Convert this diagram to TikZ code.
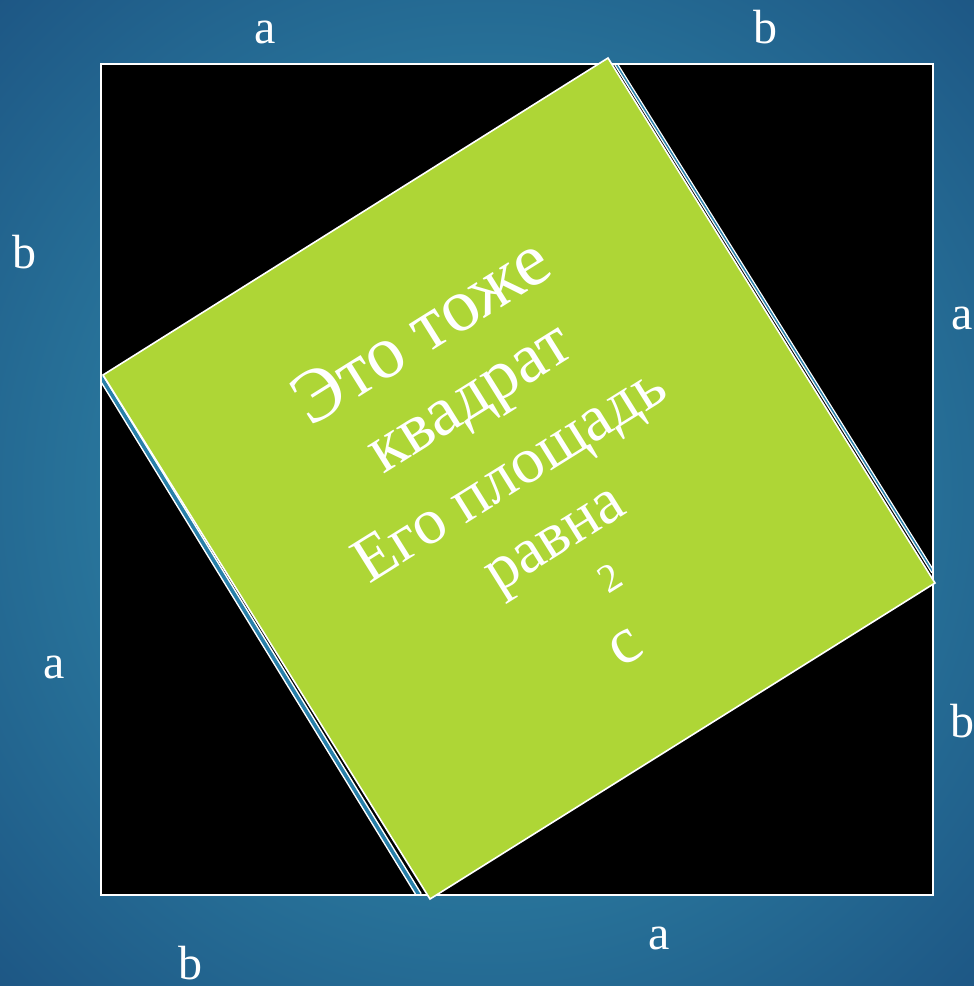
\documentclass[tikz,border=0pt]{standalone}
\usepackage{fontspec}
\setmainfont{Liberation Serif}
\definecolor{bgout}{RGB}{29,86,132}
\definecolor{bgin}{RGB}{47,134,168}
\definecolor{lime}{RGB}{174,214,54}
\definecolor{hypblue}{RGB}{40,128,170}
\pgfdeclareradialshading{bgshade}{\pgfpoint{0bp}{0bp}}{color(0bp)=(bgin); color(14bp)=(bgin!85!bgout); color(36bp)=(bgout); color(50bp)=(bgout)}
\tikzset{
  lbl/.style={text=white, anchor=base, inner sep=0pt, font=\fontsize{48}{56}\selectfont},
  sqborder/.style={draw=white, line width=1.6pt},
  rtext/.style={rotate=32, text=white, inner sep=0pt},
}
\begin{document}
\begin{tikzpicture}[x=1pt,y=-1pt]
\useasboundingbox (0,0) rectangle (974,986);
\shade[shading=bgshade] (0,0) rectangle (974,986);
% outer square
\coordinate (O1) at (101,64);
\coordinate (O2) at (933,64);
\coordinate (O3) at (933,895);
\coordinate (O4) at (101,895);
\fill[black] (O1) -- (O2) -- (O3) -- (O4) -- cycle;
% triangle hypotenuses
\coordinate (H1) at (101,377);
\coordinate (H2) at (419,895);
\coordinate (H3) at (616,64);
\coordinate (H4) at (933,572);
\begin{scope}
\clip (O1) -- (O2) -- (O3) -- (O4) -- cycle;
\draw[white, line width=6.5pt] (H1) -- (H2);
\draw[hypblue, line width=3.5pt] (H1) -- (H2);
\draw[white, line width=4pt] (H3) -- (H4);
\draw[hypblue, line width=1.4pt] (H3) -- (H4);
\end{scope}
\draw[sqborder] (O1) -- (O2) -- (O3) -- (O4) -- cycle;
% inner green square
\coordinate (G1) at (608,58);
\coordinate (G2) at (935,583);
\coordinate (G3) at (430,899);
\coordinate (G4) at (103,375);
\fill[lime] (G1) -- (G2) -- (G3) -- (G4) -- cycle;
\draw[sqborder] (G1) -- (G2) -- (G3) -- (G4) -- cycle;
% text
\node[rtext, font=\fontsize{75}{84}\selectfont] (t1) at (420,330) {Это тоже};
\node[rtext, font=\fontsize{70}{84}\selectfont] (t2) at (475,407) {квадрат};
\node[rtext, font=\fontsize{65}{84}\selectfont] (t3) at (512,478) {Его площадь};
\node[rtext, font=\fontsize{64}{84}\selectfont] (t4) at (559,546) {равна};
\node[rtext, font=\fontsize{40}{48}\selectfont] (two) at (610,578) {2};
\node[rtext, font=\fontsize{66}{72}\selectfont] (cc) at (626,648) {c};
% side labels
\node[lbl] (ta) at (265.5,43) {a};
\node[lbl] (tb) at (765.5,43) {b};
\node[lbl] (lb) at (24.5,268) {b};
\node[lbl] (la) at (54.5,678) {a};
\node[lbl] (ra) at (962,329) {a};
\node[lbl] (rb) at (962,737) {b};
\node[lbl] (bb) at (190.5,979) {b};
\node[lbl] (ba) at (659.5,949) {a};
\end{tikzpicture}
\end{document}
